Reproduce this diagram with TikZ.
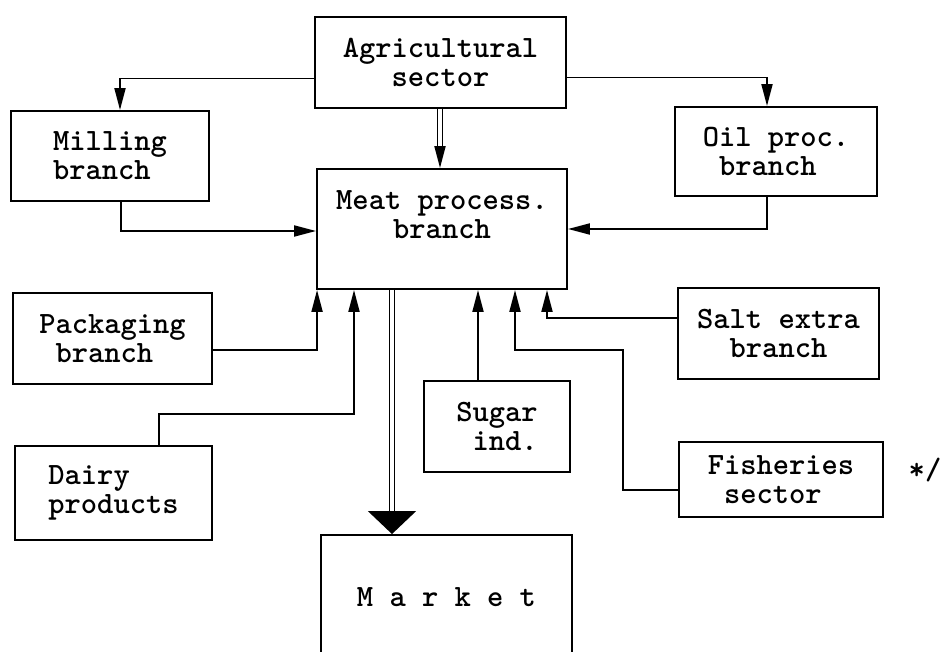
\documentclass[tikz,border=0pt]{standalone}
\usepackage{fontspec}
\usetikzlibrary{arrows.meta}
\begin{document}
\begin{tikzpicture}[x=1pt,y=-1pt,line width=1.9pt,
  txt/.style={font=\ttfamily\bfseries\fontsize{31}{29}\selectfont},
  box/.style={txt,draw,rectangle,inner sep=0pt,align=center},
  lbox/.style={box,align=left},
  tip/.style={-{Triangle[length=22pt,width=11pt]}},
  bigtip/.style={-{Triangle[length=23pt,width=48pt]}},
  dbl/.style={double,double distance=3.5pt,line width=1.4pt}]
\useasboundingbox[fill=white] (0,0) rectangle (943,652);

\node[box,minimum width=251pt,minimum height=91pt] (agri) at (440.5,62.5) {Agricultural\\sector};
\node[lbox,minimum width=198pt,minimum height=90pt] (mill) at (110,156) {Milling\\branch};
\node[lbox,minimum width=202pt,minimum height=89pt] (oil) at (776,151.5) {Oil proc.\\\ branch};
\node[box,minimum width=250pt,minimum height=120pt] (meat) at (442,229) {Meat process.\\branch\\\mbox{}};
\node[lbox,minimum width=199pt,minimum height=91pt] (pack) at (112.5,338.5) {Packaging\\\ branch};
\node[box,minimum width=201pt,minimum height=91pt] (salt) at (778.5,333.5) {Salt extra\\branch};
\node[lbox,minimum width=146pt,minimum height=91pt] (sugar) at (497,426.5) {Sugar\\\ ind.};
\node[lbox,minimum width=197pt,minimum height=94pt] (dairy) at (113.5,493) {Dairy\\products};
\node[lbox,minimum width=204pt,minimum height=75pt] (fish) at (781,479.5) {Fisheries\\\ sector};
\node[box,minimum width=251pt,minimum height=124pt] (market) at (446.5,597) {M a r k e t};
\node[txt,inner sep=0pt] (note) at (925,470) {*/};

% from agricultural sector
\draw[tip] ([yshift=-16pt]agri.west) -| ([xshift=10pt]mill.north);
\draw[tip] ([yshift=-15pt]agri.east) -| ([xshift=-9pt]oil.north);
\coordinate (m1) at (440,148);
\draw[dbl] (agri.south -| m1) -- (m1);
\draw[tip] (m1) -- (m1 |- meat.north);

% side inputs
\draw[tip] ([xshift=11pt]mill.south) |- ([yshift=-2pt]meat.west);
\draw[tip] ([xshift=-9pt]oil.south) |- (meat.east);

% bottom inputs
\draw[tip] ([yshift=-11.5pt]pack.east) -| ([xshift=1pt]meat.south west);
\draw[tip] ([xshift=45.5pt]dairy.north) -- ++(0,-31) -| ([xshift=-88pt]meat.south);
\draw[tip] ([xshift=-19pt]sugar.north) -- ([xshift=36pt]meat.south);
\draw[tip] ([yshift=15.5pt]salt.west) -| ([xshift=105pt]meat.south);
\draw[tip] ([yshift=-10.5pt]fish.west) -- ++(-55,0) -- ++(0,-140) -| ([xshift=73pt]meat.south);

% to market
\coordinate (m2) at (392,512);
\draw[dbl] (m2 |- meat.south) -- (m2);
\draw[bigtip] (m2) -- (m2 |- market.north);
\end{tikzpicture}
\end{document}
